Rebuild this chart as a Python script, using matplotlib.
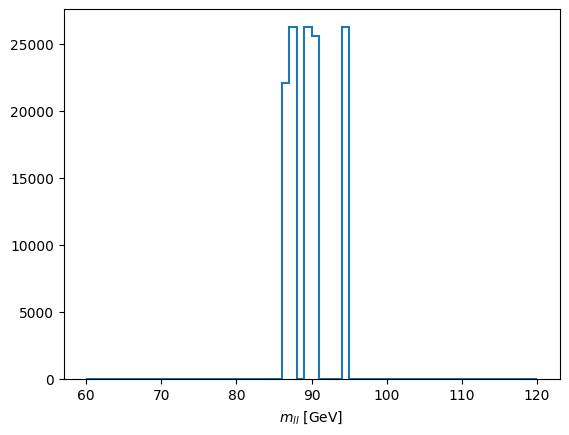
import matplotlib
matplotlib.use("Agg")
import matplotlib.pyplot as plt
import numpy as np

# bin edges: 1 GeV bins from 60 to 120
bin_lo = 60
bin_hi = 120
# events per bin
counts = [
    0, 0, 0, 0, 0, 0, 0, 0, 0, 0,          # 60-69
    0, 0, 0, 0, 0, 0, 0, 0, 0, 0,          # 70-79
    0, 0, 0, 0, 0, 0, 22100, 26300, 0, 26300,  # 80-89
    25600, 0, 0, 0, 26300, 0, 0, 0, 0, 0,  # 90-99
    0, 0, 0, 0, 0, 0, 0, 0, 0, 0,          # 100-109
    0, 0, 0, 0, 0, 0, 0, 0, 0, 0,          # 110-119
]
xlabel = r"$m_{ll}$ [GeV]"

edges = np.arange(bin_lo, bin_hi + 1, 1)

fig, ax = plt.subplots(figsize=(6.4, 4.8), dpi=100)
ax.hist(edges[:-1], bins=edges, weights=counts, histtype="step", linewidth=1.5)
ax.set_xlabel(xlabel)

fig.savefig("out.png", bbox_inches="tight")
